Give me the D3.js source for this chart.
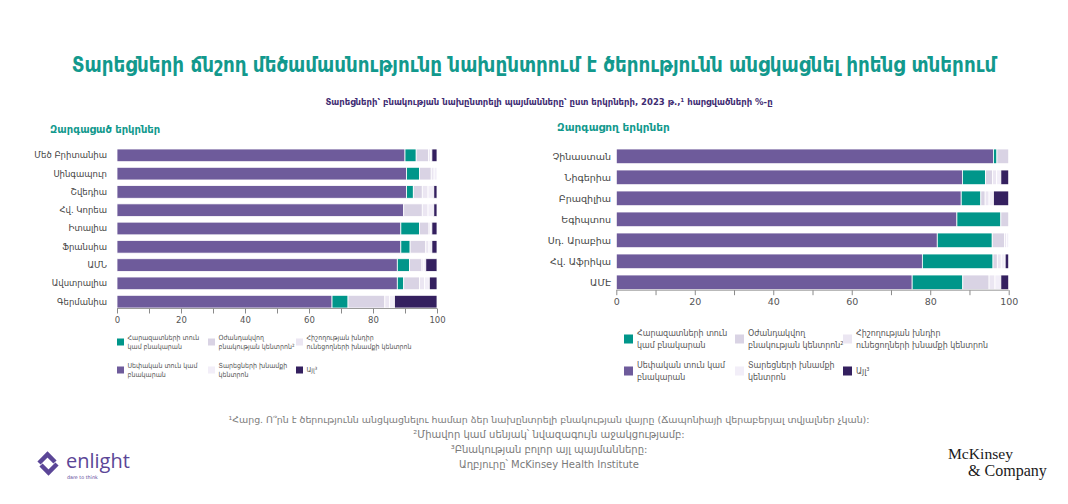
<!DOCTYPE html>
<html>
<head>
<meta charset="utf-8">
<script src="https://cdn.jsdelivr.net/npm/d3@7/dist/d3.min.js"></script>
<style>
  html, body { margin: 0; padding: 0; background: #ffffff; }
  svg { display: block; font-family: "DejaVu Sans", "Noto Sans", sans-serif; }
</style>
</head>
<body>
<svg id="chart" width="1068" height="504"></svg>
<script>
// ---------------- DATA ----------------
const seriesKeys = ["own", "relatives", "assisted", "memory", "aged", "other"];
const seriesLabels = {
  relatives: ["Հարազատների տուն", "կամ բնակարան"],
  assisted: ["Օժանդակվող", "բնակության կենտրոն²"],
  memory: ["Հիշողության խնդիր", "ունեցողների խնամքի կենտրոն"],
  own: ["Սեփական տուն կամ", "բնակարան"],
  aged: ["Տարեցների խնամքի", "կենտրոն"],
  other: ["Այլ³"]
};
const legendOrder = ["relatives", "assisted", "memory", "own", "aged", "other"];

const developedCountries = ["Մեծ Բրիտանիա", "Սինգապուր", "Շվեդիա", "Հվ. Կորեա", "Իտալիա", "Ֆրանսիա", "ԱՄՆ", "Ավստրալիա", "Գերմանիա"];
const developedOwn       = [90.0, 90.5, 90.5, 89.6, 88.7, 88.7, 87.6, 87.6, 67.2];
const developedRelatives = [3.5, 4.0, 2.1, 0.0, 5.8, 2.9, 3.8, 2.0, 5.0];
const developedAssisted  = [3.9, 3.7, 2.8, 5.8, 3.0, 4.9, 3.9, 4.9, 11.5];
const developedMemory    = [0.6, 0.9, 1.8, 1.8, 0.5, 1.0, 0.6, 1.6, 1.5];
const developedAged      = [0.4, 0.9, 1.8, 1.8, 0.4, 0.9, 0.6, 1.5, 1.5];
const developedOther     = [1.6, 0.0, 1.0, 1.0, 1.6, 1.6, 3.5, 2.4, 13.3];

const developingCountries = ["Չինաստան", "Նիգերիա", "Բրազիլիա", "Եգիպտոս", "Սդ. Արաբիա", "Հվ. Աֆրիկա", "ԱՄԷ"];
const developingOwn       = [96.1, 88.2, 87.9, 86.8, 81.8, 78.0, 75.4];
const developingRelatives = [0.9, 5.9, 5.0, 11.2, 14.0, 18.0, 12.9];
const developingAssisted  = [3.0, 1.8, 1.1, 2.0, 3.1, 1.1, 6.7];
const developingMemory    = [0.0, 1.0, 1.0, 0.0, 0.6, 1.0, 1.5];
const developingAged      = [0.0, 1.1, 1.1, 0.0, 0.5, 1.0, 1.5];
const developingOther     = [0.0, 2.0, 3.9, 0.0, 0.0, 0.9, 2.0];

const xTicks = [0, 10, 20, 30, 40, 50, 60, 70, 80, 90, 100];

const titleText = "Տարեցների ճնշող մեծամասնությունը նախընտրում է ծերությունն անցկացնել իրենց տներում";
const subtitleText = "Տարեցների՝ բնակության նախընտրելի պայմանները՝ ըստ երկրների, 2023 թ.,¹ հարցվածների %-ը";
const leftHeading = "Զարգացած երկրներ";
const rightHeading = "Զարգացող երկրներ";
const footnotes = [
  "¹Հարց. Ո՞րն է ծերությունն անցկացնելու համար ձեր նախընտրելի բնակության վայրը (Ճապոնիայի վերաբերյալ տվյալներ չկան):",
  "²Միավոր կամ սենյակ՝ նվազագույն աջակցությամբ:",
  "³Բնակության բոլոր այլ պայմանները:",
  "Աղբյուրը՝ McKinsey Health Institute"
];

// ---------------- STYLE ----------------
const colors = {
  own: "#6e5b9b",
  relatives: "#00968a",
  assisted: "#d9d3e4",
  memory: "#ebe6f2",
  aged: "#f2eef8",
  other: "#34205f"
};
const teal = "#12998d";
const condensed = "'DejaVu Sans Condensed', 'DejaVu Sans', sans-serif";

function buildRows(cats, own, rel, ass, mem, aged, oth) {
  return cats.map((c, i) => ({ country: c, own: own[i], relatives: rel[i], assisted: ass[i], memory: mem[i], aged: aged[i], other: oth[i] }));
}
const developedRows = buildRows(developedCountries, developedOwn, developedRelatives, developedAssisted, developedMemory, developedAged, developedOther);
const developingRows = buildRows(developingCountries, developingOwn, developingRelatives, developingAssisted, developingMemory, developingAged, developingOther);

const svg = d3.select("#chart");

// fit a text's font size to a target width
function fitWidth(sel, target, base) {
  sel.attr("font-size", base);
  const w = sel.node().getComputedTextLength();
  if (w > 0) sel.attr("font-size", base * target / w);
}

// Title
const title = svg.append("text")
  .attr("x", 534).attr("y", 72)
  .attr("text-anchor", "middle")
  .attr("font-family", condensed)
  .attr("font-weight", "bold")
  .attr("fill", teal)
  .text(titleText);
fitWidth(title, 925, 26);

// Subtitle
const sub = svg.append("text")
  .attr("x", 549).attr("y", 105)
  .attr("text-anchor", "middle")
  .attr("font-weight", "bold")
  .attr("fill", "#3f2d73")
  .text(subtitleText);
fitWidth(sub, 448, 10.5);

function drawPanel(cfg) {
  const g = svg.append("g");
  const x = d3.scaleLinear().domain([0, 100]).range([cfg.x0, cfg.x1]);
  const y = d3.scaleBand().domain(cfg.rows.map(d => d.country))
    .range([cfg.yTop, cfg.yBottom]).paddingInner(cfg.padInner).paddingOuter(0);

  const stack = d3.stack().keys(seriesKeys)(cfg.rows);

  g.append("text")
    .attr("x", cfg.headX).attr("y", cfg.headY)
    .attr("font-weight", "bold")
    .attr("font-size", cfg.headSize)
    .attr("fill", teal)
    .text(cfg.heading);

  g.selectAll("g.series").data(stack).join("g")
    .attr("class", "series")
    .attr("fill", s => colors[s.key])
    .selectAll("rect").data(s => s).join("rect")
    .attr("x", d => x(d[0]))
    .attr("y", d => y(d.data.country))
    .attr("width", d => Math.max(0, x(d[1]) - x(d[0])))
    .attr("height", y.bandwidth())
    .attr("stroke", "#ffffff")
    .attr("stroke-width", 0.8);

  // country labels
  g.selectAll("text.cat").data(cfg.rows).join("text")
    .attr("class", "cat")
    .attr("x", cfg.labelX)
    .attr("y", d => y(d.country) + y.bandwidth() / 2)
    .attr("dy", "0.35em")
    .attr("text-anchor", "end")
    .attr("font-size", cfg.labelSize)
    .attr("fill", "#444")
    .text(d => d.country);

  // axis
  const axis = d3.axisBottom(x)
    .tickValues(xTicks)
    .tickSize(cfg.tickSize)
    .tickFormat(v => v % 20 === 0 ? String(v) : "");
  const ax = g.append("g")
    .attr("transform", `translate(0,${cfg.yBottom + 0.5})`)
    .call(axis);
  ax.select(".domain").attr("stroke", "#9a9a9a").attr("d", `M${cfg.x0},0H${cfg.x1}`);
  ax.selectAll(".tick line").attr("stroke", "#8a8a8a");
  ax.selectAll(".tick text")
    .attr("font-size", cfg.tickFont)
    .attr("fill", "#555")
    .attr("font-family", "'DejaVu Sans', sans-serif")
    .attr("y", cfg.tickSize + 3);

  // legend
  const lg = g.append("g");
  legendOrder.forEach((k, i) => {
    const col = i % 3, row = Math.floor(i / 3);
    const sx = cfg.legX[col], sy = cfg.legY[row];
    lg.append("rect")
      .attr("x", sx).attr("y", sy - cfg.legSq / 2)
      .attr("width", cfg.legSq).attr("height", cfg.legSq)
      .attr("fill", colors[k]);
    const lines = seriesLabels[k];
    const t = lg.append("text")
      .attr("font-family", condensed)
      .attr("font-size", cfg.legFont)
      .attr("fill", "#555");
    const lh = cfg.legLine;
    const startY = sy - (lines.length - 1) * lh / 2;
    lines.forEach((ln, j) => {
      t.append("tspan")
        .attr("x", sx + cfg.legSq + cfg.legGap)
        .attr("y", startY + j * lh)
        .attr("dy", "0.35em")
        .text(ln);
    });
  });
}

drawPanel({
  rows: developedRows,
  heading: leftHeading, headX: 50, headY: 133, headSize: 10,
  x0: 117, x1: 437, yTop: 149, yBottom: 308, padInner: 0.306,
  labelX: 107, labelSize: 8.5,
  tickSize: 5, tickFont: 8.5,
  legX: [117, 208, 296], legY: [342, 370], legSq: 7, legGap: 3.5, legFont: 7, legLine: 8.8
});

drawPanel({
  rows: developingRows,
  heading: rightHeading, headX: 557, headY: 131, headSize: 10.5,
  x0: 616.3, x1: 1008.7, yTop: 149, yBottom: 289.7, padInner: 0.3,
  labelX: 611, labelSize: 9.5,
  tickSize: 5, tickFont: 9.5,
  legX: [624, 735, 843], legY: [339, 371], legSq: 9, legGap: 4, legFont: 8.8, legLine: 11.5
});

// Footnotes
const fn = svg.append("g");
footnotes.forEach((t, i) => {
  const el = fn.append("text")
    .attr("x", 549).attr("y", 423 + i * 15)
    .attr("text-anchor", "middle")
    .attr("font-size", 10)
    .attr("fill", "#7a7a7a")
    .text(t);
  if (i === 0) fitWidth(el, 642, 10);
});

// enlight logo
const logo = svg.append("g");
logo.append("path")
  .attr("d", "M39,463 L47.5,454.5 L55,462")
  .attr("fill", "none").attr("stroke", "#5b4697").attr("stroke-width", 4.5).attr("stroke-linejoin", "miter");
logo.append("path")
  .attr("d", "M41,465 L48.5,472.5 L57,464")
  .attr("fill", "none").attr("stroke", "#5b4697").attr("stroke-width", 4.5).attr("stroke-linejoin", "miter");
logo.append("text")
  .attr("x", 66).attr("y", 468)
  .attr("font-family", "'Open Sans', 'DejaVu Sans', sans-serif")
  .attr("font-size", 20)
  .attr("fill", "#5b4697")
  .text("enlight");
logo.append("text")
  .attr("x", 67).attr("y", 479)
  .attr("font-size", 4.8)
  .attr("fill", "#5b4697")
  .text("dare to think");

// McKinsey logo
const mk1 = svg.append("text")
  .attr("x", 948).attr("y", 459)
  .attr("font-family", "'Liberation Serif', 'DejaVu Serif', serif")
  .attr("fill", "#1a1a1a")
  .text("McKinsey");
fitWidth(mk1, 65, 16);
const mk2 = svg.append("text")
  .attr("x", 968).attr("y", 476)
  .attr("font-family", "'Liberation Serif', 'DejaVu Serif', serif")
  .attr("fill", "#1a1a1a")
  .text("& Company");
fitWidth(mk2, 79, 16);
</script>
</body>
</html>
